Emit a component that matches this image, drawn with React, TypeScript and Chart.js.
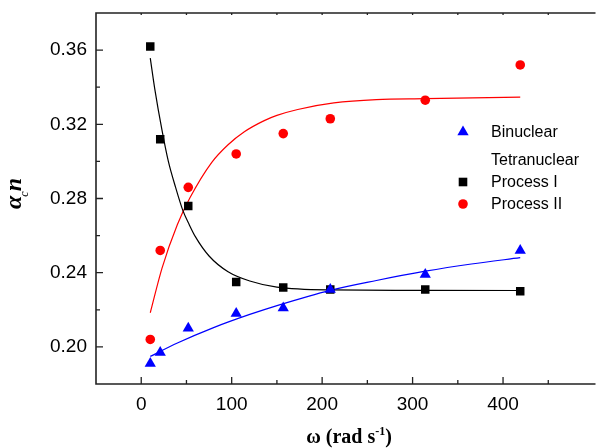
import React, { useEffect, useRef } from "react";
import { Chart, registerables } from "chart.js";

Chart.register(...registerables);

// ---- data ----
const omega = [10, 21, 52, 105, 157, 209, 314, 419];
const binuclear = [0.191, 0.197, 0.21, 0.218, 0.221, 0.231, 0.239, 0.252];
const processI = [0.362, 0.312, 0.276, 0.235, 0.232, 0.231, 0.231, 0.23];
const processII = [0.204, 0.252, 0.286, 0.304, 0.315, 0.323, 0.333, 0.352];

const fitBinX = [10, 40, 80, 120, 151, 209, 260, 314, 365, 419];
const fitBinY = [0.1949, 0.2021, 0.2104, 0.2175, 0.2224, 0.2305, 0.2358, 0.2408, 0.2447, 0.2481];
const fitIX = [10, 15, 23, 30, 38, 46, 53, 60, 75, 96, 120, 150, 209, 300, 419];
const fitIY = [0.3557, 0.339, 0.3167, 0.3, 0.286, 0.2736, 0.266, 0.2593, 0.249, 0.2405, 0.2355, 0.2322, 0.2307, 0.2305, 0.2304];
const fitIIX = [10, 23, 40, 54, 78, 96, 114, 136, 150, 173, 213, 260, 314, 419];
const fitIIY = [0.2184, 0.2425, 0.266, 0.2805, 0.2995, 0.309, 0.316, 0.322, 0.3248, 0.328, 0.3315, 0.3333, 0.3338, 0.3347];

const xMajorTicks = [0, 100, 200, 300, 400];
const xMinorTicks = [50, 150, 250, 350, 450];
const yMajorTicks = [0.2, 0.24, 0.28, 0.32, 0.36];
const yMinorTicks = [0.22, 0.26, 0.3, 0.34];

const legendItems = [
  { label: "Binuclear", marker: "triangle", color: "#0000ff" },
  { label: "Tetranuclear", marker: "none", color: "#000000" },
  { label: "Process I", marker: "rect", color: "#000000" },
  { label: "Process II", marker: "circle", color: "#ff0000" },
];

const SANS = "'Liberation Sans', Arial, sans-serif";
const SERIF = "'Liberation Serif', 'Times New Roman', serif";

const pts = (xs: number[], ys: number[]) => xs.map((x, i) => ({ x, y: ys[i] }));

function drawMarker(ctx: CanvasRenderingContext2D, kind: string, x: number, y: number, color: string) {
  ctx.save();
  ctx.fillStyle = color;
  ctx.beginPath();
  if (kind === "triangle") {
    const r = 6.5;
    ctx.moveTo(x, y - r);
    ctx.lineTo(x + r * 0.866, y + r / 2);
    ctx.lineTo(x - r * 0.866, y + r / 2);
    ctx.closePath();
    ctx.fill();
  } else if (kind === "rect") {
    const s = 4.3;
    ctx.rect(x - s, y - s, 2 * s, 2 * s);
    ctx.fill();
  } else if (kind === "circle") {
    ctx.arc(x, y, 4.8, 0, Math.PI * 2);
    ctx.fill();
  }
  ctx.restore();
}

const framePlugin = {
  id: "frame",
  afterDraw(chart: any) {
    const { ctx, chartArea } = chart;
    const { left, right, top, bottom } = chartArea;
    const xs = chart.scales.x;
    const ys = chart.scales.y;
    ctx.save();
    ctx.strokeStyle = "#222";
    ctx.lineWidth = 1.6;
    ctx.beginPath();
    ctx.moveTo(right + 2, top);
    ctx.lineTo(left, top);
    ctx.lineTo(left, bottom);
    ctx.lineTo(right + 2, bottom);
    ctx.stroke();
    ctx.lineWidth = 1.3;
    ctx.beginPath();
    yMajorTicks.forEach((v) => {
      const py = ys.getPixelForValue(v);
      ctx.moveTo(left, py);
      ctx.lineTo(left + 7, py);
    });
    yMinorTicks.forEach((v) => {
      const py = ys.getPixelForValue(v);
      ctx.moveTo(left, py);
      ctx.lineTo(left + 4, py);
    });
    xMajorTicks.forEach((v) => {
      const px = xs.getPixelForValue(v);
      ctx.moveTo(px, bottom);
      ctx.lineTo(px, bottom - 7);
      ctx.moveTo(px, top);
      ctx.lineTo(px, top + 2);
    });
    xMinorTicks.forEach((v) => {
      const px = xs.getPixelForValue(v);
      ctx.moveTo(px, bottom);
      ctx.lineTo(px, bottom - 4);
      ctx.moveTo(px, top);
      ctx.lineTo(px, top + 2);
    });
    ctx.stroke();

    // legend
    ctx.fillStyle = "#000";
    ctx.font = `16px ${SANS}`;
    ctx.textBaseline = "middle";
    ctx.textAlign = "left";
    const rowsY = [132, 160, 182, 204];
    legendItems.forEach((it, i) => {
      if (it.marker !== "none") drawMarker(ctx, it.marker, 463, rowsY[i], it.color);
      ctx.fillStyle = "#000";
      ctx.fillText(it.label, 491, rowsY[i] + 1);
    });

    // x-axis title: ω (rad s^-1)
    ctx.fillStyle = "#000";
    ctx.textBaseline = "alphabetic";
    const big = `bold 20px ${SERIF}`;
    const small = `bold 12px ${SERIF}`;
    const p1 = "ω (rad s";
    const p2 = "-1";
    const p3 = ")";
    ctx.font = big;
    const w1 = ctx.measureText(p1).width;
    const w3 = ctx.measureText(p3).width;
    ctx.font = small;
    const w2 = ctx.measureText(p2).width;
    const total = w1 + w2 + w3;
    let sx = 349 - total / 2;
    const base = 443;
    ctx.font = big;
    ctx.fillText(p1, sx, base);
    sx += w1;
    ctx.font = small;
    ctx.fillText(p2, sx, base - 8);
    sx += w2;
    ctx.font = big;
    ctx.fillText(p3, sx, base);

    // y-axis title: α_c n
    ctx.save();
    ctx.translate(21, 193);
    ctx.rotate(-Math.PI / 2);
    const gf = `italic bold 24px ${SERIF}`;
    const sf = `italic 12px ${SERIF}`;
    ctx.font = gf;
    const wa = ctx.measureText("α").width;
    const wn = ctx.measureText("n").width;
    ctx.font = sf;
    const wc = ctx.measureText("c").width;
    let tx = -(wa + wc + wn) / 2;
    ctx.font = gf;
    ctx.fillText("α", tx, 0);
    tx += wa;
    ctx.font = sf;
    ctx.fillText("c", tx - 1, 7);
    tx += wc;
    ctx.font = gf;
    ctx.fillText("n", tx - 1, 0);
    ctx.restore();

    ctx.restore();
  },
};

export default function App() {
  const ref = useRef<HTMLCanvasElement | null>(null);
  useEffect(() => {
    if (!ref.current) return;
    const fitStyle = (color: string) => ({
      showLine: true,
      pointRadius: 0,
      borderColor: color,
      backgroundColor: color,
      borderWidth: 1.2,
      cubicInterpolationMode: "monotone" as const,
      fill: false,
    });
    const chart = new Chart(ref.current, {
      type: "scatter",
      data: {
        datasets: [
          {
            label: "Binuclear",
            data: pts(omega, binuclear),
            pointStyle: "triangle",
            pointRadius: 6.5,
            backgroundColor: "#0000ff",
            borderColor: "#0000ff",
            borderWidth: 0,
          },
          {
            label: "Process I",
            data: pts(omega, processI),
            pointStyle: "rect",
            pointRadius: 6,
            backgroundColor: "#000000",
            borderColor: "#000000",
            borderWidth: 0,
          },
          {
            label: "Process II",
            data: pts(omega, processII),
            pointStyle: "circle",
            pointRadius: 4.8,
            backgroundColor: "#ff0000",
            borderColor: "#ff0000",
            borderWidth: 0,
          },
          { label: "fit Binuclear", data: pts(fitBinX, fitBinY), ...fitStyle("#0000ff") },
          { label: "fit Process I", data: pts(fitIX, fitIY), ...fitStyle("#000000") },
          { label: "fit Process II", data: pts(fitIIX, fitIIY), ...fitStyle("#ff0000") },
        ] as any,
      },
      options: {
        animation: false,
        responsive: false,
        devicePixelRatio: 1,
        layout: { padding: { left: 0, right: 1, top: 13, bottom: 0 } },
        plugins: { legend: { display: false }, tooltip: { enabled: false } },
        scales: {
          x: {
            type: "linear",
            min: -50,
            max: 500,
            afterFit: (s: any) => {
              s.height = 64;
              s.paddingLeft = 0;
              s.paddingRight = 0;
              s.paddingTop = 0;
              s.paddingBottom = 0;
            },
            afterBuildTicks: (s: any) => {
              s.ticks = xMajorTicks.map((v) => ({ value: v }));
            },
            grid: { display: false, drawTicks: false },
            border: { display: false },
            ticks: {
              color: "#000",
              font: { family: SANS, size: 19 },
              padding: 9,
              maxRotation: 0,
            },
          },
          y: {
            type: "linear",
            min: 0.18,
            max: 0.38,
            afterFit: (s: any) => {
              s.width = 96;
              s.paddingLeft = 0;
              s.paddingRight = 0;
              s.paddingTop = 0;
              s.paddingBottom = 0;
            },
            afterBuildTicks: (s: any) => {
              s.ticks = yMajorTicks.map((v) => ({ value: v }));
            },
            grid: { display: false, drawTicks: false },
            border: { display: false },
            ticks: {
              color: "#000",
              font: { family: SANS, size: 19 },
              padding: 9,
              callback: (v: any) => Number(v).toFixed(2),
            },
          },
        },
      },
      plugins: [framePlugin],
    });
    return () => chart.destroy();
  }, []);
  return (
    <div
      style={{
        position: "fixed",
        left: 0,
        top: 0,
        width: 596,
        height: 448,
        overflow: "hidden",
        background: "#fff",
      }}
    >
      <canvas ref={ref} width={600} height={448} style={{ display: "block" }} />
    </div>
  );
}
